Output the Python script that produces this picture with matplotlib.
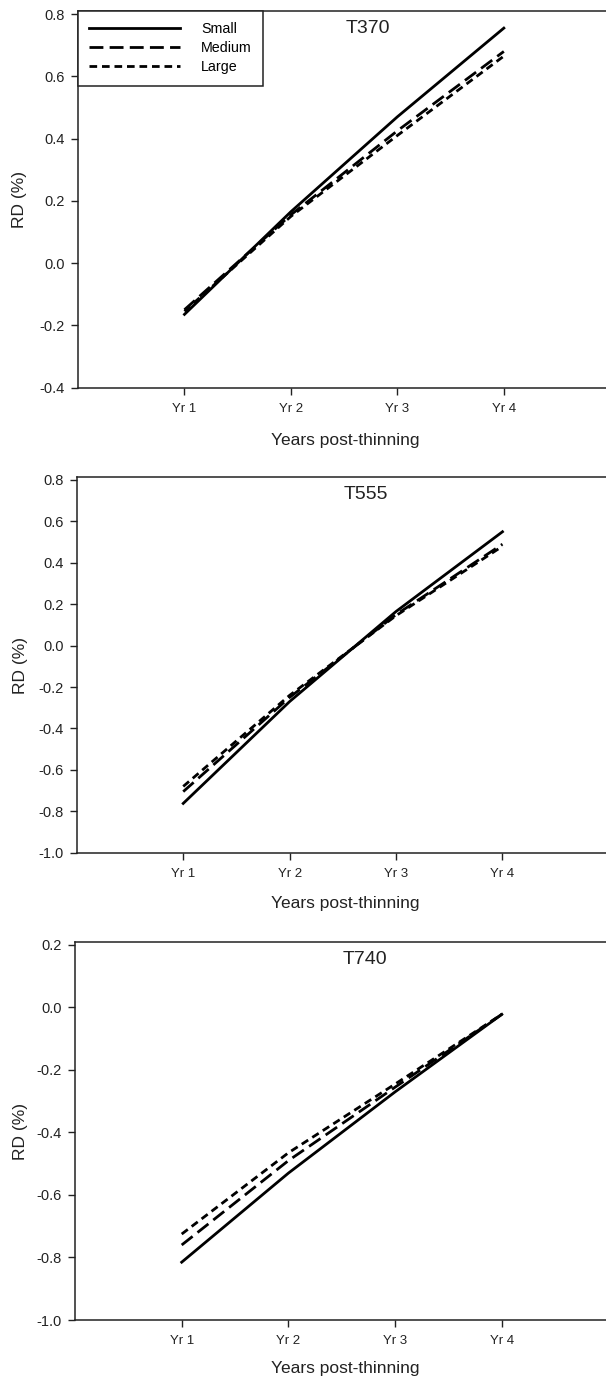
import matplotlib
matplotlib.use("Agg")
import matplotlib.pyplot as plt
import matplotlib.transforms as mtransforms

plt.rcParams['font.family'] = ['Liberation Sans', 'DejaVu Sans']
plt.rcParams['axes.unicode_minus'] = False
plt.rcParams['lines.scale_dashes'] = False

# data
years = [1, 2, 3, 4]
year_labels = ['Yr 1', 'Yr 2', 'Yr 3', 'Yr 4']

t370_small = [-0.165, 0.165, 0.47, 0.755]
t370_medium = [-0.15, 0.155, 0.425, 0.68]
t370_large = [-0.155, 0.15, 0.41, 0.665]

t555_small = [-0.762, -0.27, 0.165, 0.55]
t555_medium = [-0.705, -0.25, 0.15, 0.49]
t555_large = [-0.68, -0.24, 0.145, 0.48]

t740_small = [-0.815, -0.53, -0.27, -0.022]
t740_medium = [-0.76, -0.49, -0.255, -0.022]
t740_large = [-0.725, -0.465, -0.245, -0.022]

panels = [
    ('T370', t370_small, t370_medium, t370_large, (-0.4, 0.81), [-0.4, -0.2, 0.0, 0.2, 0.4, 0.6, 0.8]),
    ('T555', t555_small, t555_medium, t555_large, (-1.0, 0.813), [-1.0, -0.8, -0.6, -0.4, -0.2, 0.0, 0.2, 0.4, 0.6, 0.8]),
    ('T740', t740_small, t740_medium, t740_large, (-1.0, 0.2086), [-1.0, -0.8, -0.6, -0.4, -0.2, 0.0, 0.2]),
]

# axes boxes in pixels: left, top, right, bottom
boxes = [
    (78, 11, 610.3, 387.5),
    (76.8, 477.3, 608.9, 852.7),
    (75.0, 942.3, 608.5, 1320.0),
]
xlabel_tops = [433, 896, 1361]

W, H = 606, 1380
fig = plt.figure(figsize=(W / 100, H / 100), dpi=100)

dash_medium = (0, (10, 4.5))
dash_large = (0, (5.5, 3.5))

for i, (name, small, medium, large, ylim, yticks) in enumerate(panels):
    l, t, r, b = boxes[i]
    ax = fig.add_axes([l / W, 1 - b / H, (r - l) / W, (b - t) / H])

    ax.plot(years, small, color='black', lw=2.0, linestyle='-', label='Small')
    ax.plot(years, medium, color='black', lw=2.0, linestyle=dash_medium, label='Medium')
    ax.plot(years, large, color='black', lw=2.0, linestyle=dash_large, label='Large')

    ax.set_xlim(0, 5)
    ax.set_ylim(*ylim)
    ax.set_xticks(years)
    ax.set_xticklabels(year_labels)
    ax.set_yticks(yticks)
    ax.set_yticklabels(['%.1f' % v for v in yticks])

    for s in ax.spines.values():
        s.set_linewidth(1.1)
        s.set_color('#222222')

    ax.tick_params(axis='both', direction='out', length=4.8, width=1.0, color='#222222')
    ax.tick_params(axis='y', labelsize=10.5, pad=4.5, colors='#222222')
    ax.tick_params(axis='x', labelsize=9.5, pad=6, colors='#222222')
    ax.tick_params(top=False, right=False)

    ax.set_ylabel('RD (%)', fontsize=12.5, color='#222222')
    ax.yaxis.set_label_coords((27.5 - l) / (r - l), 0.5)
    ax.set_xlabel('Years post-thinning', fontsize=12.5, color='#222222')
    ax.xaxis.set_label_coords((345 - l) / (r - l), -(xlabel_tops[i] - b) / (b - t))

    trans = mtransforms.blended_transform_factory(ax.transData, ax.transAxes)
    ax.text(2.72, 1 - 17.5 / (b - t), name, transform=trans, ha='center', va='center',
            fontsize=14, color='#222222')

    if i == 0:
        leg = ax.legend(loc='upper left', bbox_to_anchor=(0, 1), borderaxespad=0,
                        fontsize=10.3, handlelength=6.3, handletextpad=1.5,
                        labelspacing=0.35, fancybox=False, framealpha=1,
                        edgecolor='#222222', borderpad=0.8)
        leg.get_frame().set_linewidth(1.1)

fig.savefig('out.png', dpi=100)
